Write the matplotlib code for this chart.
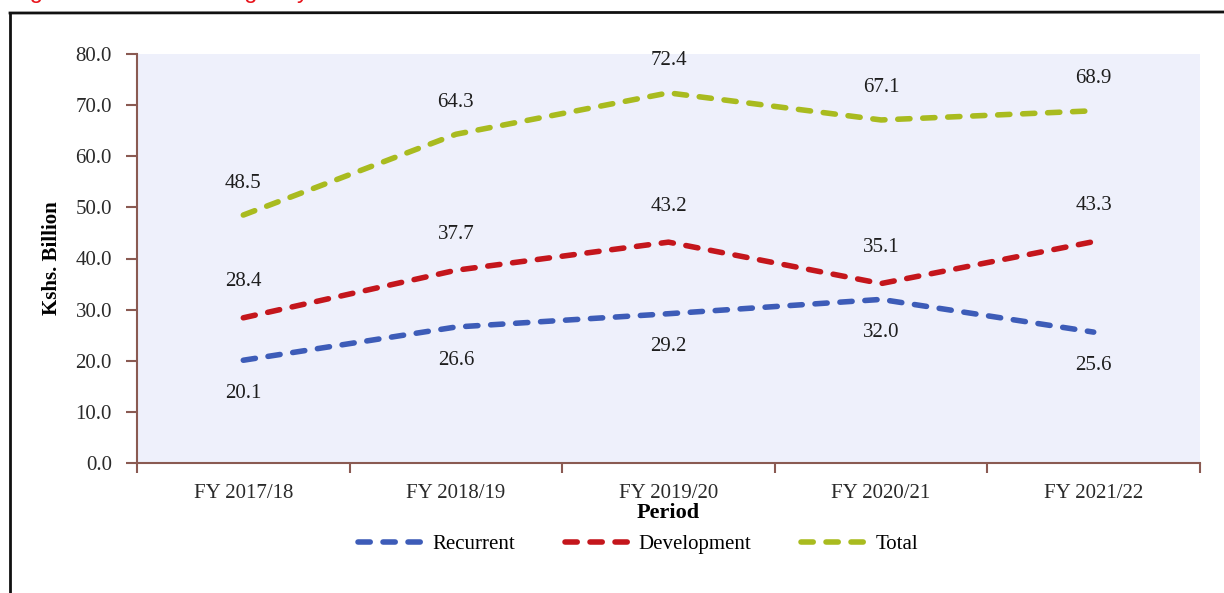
import numpy as np
from matplotlib import pyplot as plt
from matplotlib.lines import Line2D

periods = ['FY 2017/18', 'FY 2018/19', 'FY 2019/20', 'FY 2020/21', 'FY 2021/22']
recurrent = [20.1, 26.6, 29.2, 32.0, 25.6]
development = [28.4, 37.7, 43.2, 35.1, 43.3]
total = [48.5, 64.3, 72.4, 67.1, 68.9]

y_ticks = [0, 10, 20, 30, 40, 50, 60, 70, 80]

c_rec = '#3d5cb8'
c_dev = '#c4161c'
c_tot = '#a9bb1f'
axis_col = '#8a5a52'
txt_col = '#1e1e1e'
fs = 15

plt.rcParams['font.family'] = ['Liberation Serif', 'DejaVu Serif']

fig = plt.figure(figsize=(12.24, 5.93), dpi=100)
ax = fig.add_axes([137 / 1224, 1 - 463 / 593, 1063 / 1224, 409 / 593])
ax.set_facecolor('#eef0fb')

x = np.arange(len(periods))
dash = dict(lw=4, dashes=(2.2, 2.3), dash_capstyle='round')
ax.plot(x, recurrent, color=c_rec, **dash)
ax.plot(x, development, color=c_dev, **dash)
ax.plot(x, total, color=c_tot, **dash)

for i in x:
    ax.annotate('%.1f' % recurrent[i], (i, recurrent[i]), xytext=(0, -33),
                textcoords='offset pixels', ha='center', va='center', fontsize=fs, color=txt_col)
    ax.annotate('%.1f' % development[i], (i, development[i]), xytext=(0, 36),
                textcoords='offset pixels', ha='center', va='center', fontsize=fs, color=txt_col)
    ax.annotate('%.1f' % total[i], (i, total[i]), xytext=(0, 32),
                textcoords='offset pixels', ha='center', va='center', fontsize=fs, color=txt_col)

ax.set_xlim(-0.5, len(periods) - 0.5)
ax.set_ylim(0, 80)
ax.set_yticks(y_ticks)
ax.set_yticklabels(['%.1f' % v for v in y_ticks], fontsize=fs, color='#2a2a2a')
ax.set_xticks(np.arange(-0.5, len(periods), 1.0))
ax.set_xticklabels([])
ax.set_xticks(x, minor=True)
ax.set_xticklabels(periods, minor=True, fontsize=fs, color='#2a2a2a')
ax.tick_params(axis='x', which='minor', length=0, pad=15)
ax.tick_params(axis='x', which='major', length=7, color=axis_col, width=1.5)
ax.tick_params(axis='y', length=8, color=axis_col, width=1.5, pad=10)

for s in ['top', 'right']:
    ax.spines[s].set_visible(False)
for s in ['left', 'bottom']:
    ax.spines[s].set_color(axis_col)
    ax.spines[s].set_linewidth(1.5)

ax.set_ylabel('Kshs. Billion', fontsize=15, fontweight='bold', labelpad=10)
ax.set_xlabel('Period', fontsize=16, fontweight='bold', labelpad=0)

handles = [Line2D([0], [0], color=c, lw=4, dashes=(2.2, 2.3), dash_capstyle='round')
           for c in (c_rec, c_dev, c_tot)]
fig.legend(handles, ['Recurrent', 'Development', 'Total'], loc='center',
           bbox_to_anchor=(638 / 1224, 1 - 544 / 593), ncol=3, frameon=False,
           fontsize=fs, handlelength=3.2, columnspacing=2.4, handletextpad=0.35)

# outer frame (left and top edges visible in the scan)
fig.add_artist(Line2D([10 / 1224, 10 / 1224], [0, 1 - 13 / 593], color='#111111', lw=2,
                      transform=fig.transFigure))
fig.add_artist(Line2D([10 / 1224, 1224 / 1224], [1 - 13 / 593, 1 - 12 / 593], color='#111111',
                      lw=2, transform=fig.transFigure))

# caption above the frame, cut off by the page edge
fig.text(10 / 1224, 1 + 2 / 593, 'Figure 5: Trend in Budget by Economic Classification',
         color='#e8141c', fontsize=17, family='Liberation Sans', va='baseline', ha='left')

fig.savefig('out.png', dpi=100)
